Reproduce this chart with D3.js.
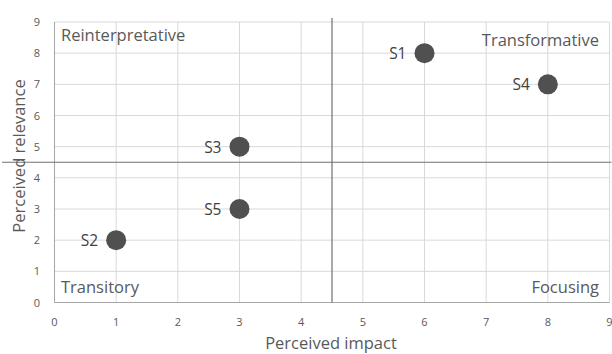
<!DOCTYPE html>
<html><head><meta charset="utf-8">
<script src="https://cdn.jsdelivr.net/npm/d3@7"></script>
<style>body{margin:0;background:#fff}svg{display:block}text{font-family:"Open Sans",sans-serif}</style>
</head><body>
<svg id="c" width="612" height="354"></svg>
<script>
const names = ["S1","S2","S3","S4","S5"];
const impact = [6,1,3,8,3];
const relevance = [8,2,5,7,3];
const xTicks = [0,1,2,3,4,5,6,7,8,9];
const yTicks = [0,1,2,3,4,5,6,7,8,9];
const quadrants = ["Reinterpretative","Transformative","Transitory","Focusing"];
const xTitle = "Perceived impact", yTitle = "Perceived relevance";
const divX = 4.5, divY = 4.5;

const svg = d3.select("#c");
const L=54.5, R=609.5, T=22, B=302.5;
const x = d3.scaleLinear().domain([0,9]).range([L,R]);
const y = d3.scaleLinear().domain([0,9]).range([B,T]);
const g = svg.append("g");
// grid
g.selectAll(".gx").data(xTicks).join("line").attr("x1",d=>x(d)).attr("x2",d=>x(d)).attr("y1",T).attr("y2",B).attr("stroke","#d9d9d9").attr("stroke-width",1);
g.selectAll(".gy").data(yTicks).join("line").attr("y1",d=>y(d)).attr("y2",d=>y(d)).attr("x1",L).attr("x2",R).attr("stroke","#d9d9d9").attr("stroke-width",1);
// axes lines
g.append("line").attr("x1",L).attr("x2",L).attr("y1",T).attr("y2",B).attr("stroke","#a6a6a6");
g.append("line").attr("x1",L).attr("x2",R).attr("y1",B).attr("y2",B).attr("stroke","#a6a6a6");
// tick labels
g.selectAll(".tx").data(xTicks).join("text").attr("x",d=>x(d)).attr("y",326).attr("text-anchor","middle").attr("font-size",11).attr("fill","#595959").text(d=>d);
g.selectAll(".ty").data(yTicks).join("text").attr("x",40).attr("y",d=>y(d)+4).attr("text-anchor","end").attr("font-size",11).attr("fill","#595959").text(d=>d);
// divider lines
g.append("line").attr("x1",x(divX)).attr("x2",x(divX)).attr("y1",T-4).attr("y2",B).attr("stroke","#707070").attr("stroke-width",1.2);
g.append("line").attr("x1",2).attr("x2",R+2).attr("y1",y(divY)).attr("y2",y(divY)).attr("stroke","#707070").attr("stroke-width",1.2);
// quadrant labels
const qs = {fill:"#595959", size:16.5};
g.append("text").attr("x",61).attr("y",41).attr("font-size",qs.size).attr("fill",qs.fill).text(quadrants[0]);
g.append("text").attr("x",599).attr("y",46).attr("text-anchor","end").attr("font-size",qs.size).attr("fill",qs.fill).text(quadrants[1]);
g.append("text").attr("x",61).attr("y",293).attr("font-size",qs.size).attr("fill",qs.fill).text(quadrants[2]);
g.append("text").attr("x",599).attr("y",293).attr("text-anchor","end").attr("font-size",qs.size).attr("fill",qs.fill).text(quadrants[3]);
// points
const data = names.map((n,i)=>({n, x:impact[i], y:relevance[i]}));
g.selectAll(".pt").data(data).join("circle").attr("cx",d=>x(d.x)).attr("cy",d=>y(d.y)).attr("r",10).attr("fill","#505050");
g.selectAll(".lb").data(data).join("text").attr("x",d=>x(d.x)-18).attr("y",d=>y(d.y)+6).attr("text-anchor","end").attr("font-size",15.5).attr("fill","#404040").text(d=>d.n);
// titles
g.append("text").attr("x",331).attr("y",349).attr("text-anchor","middle").attr("font-size",16.5).attr("fill","#595959").text(xTitle);
g.append("text").attr("transform",`translate(25,156) rotate(-90)`).attr("text-anchor","middle").attr("font-size",16.5).attr("fill","#595959").text(yTitle);
</script>
</body></html>
